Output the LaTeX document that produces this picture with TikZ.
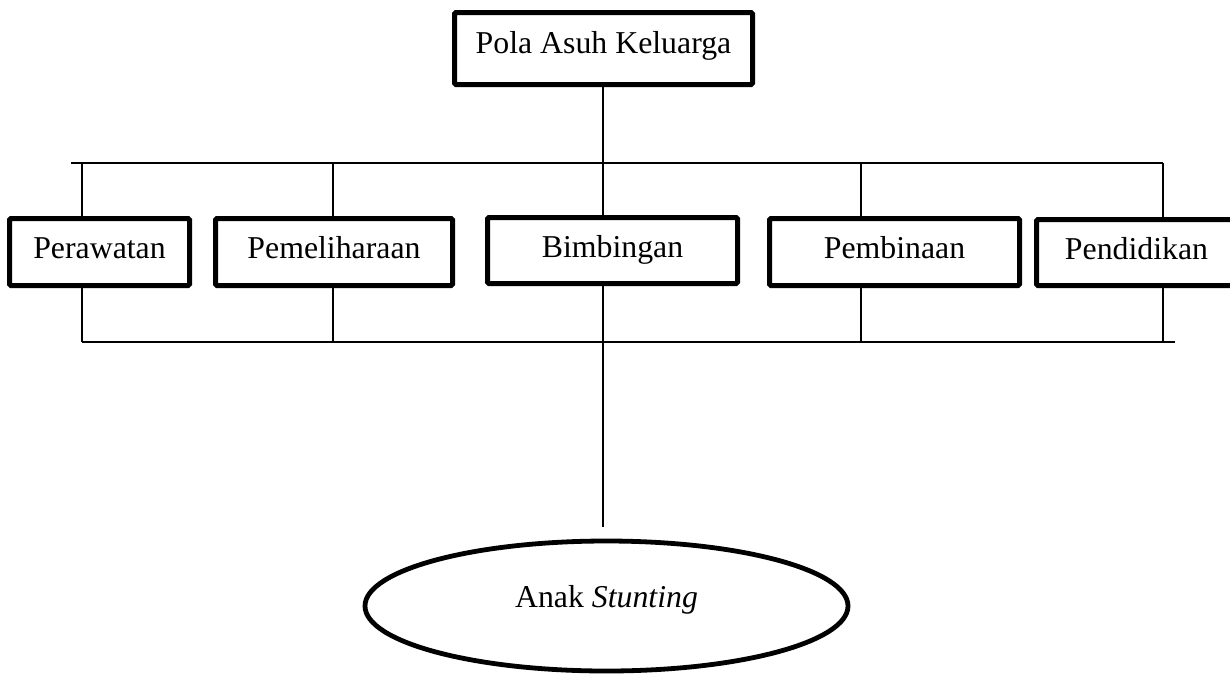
\documentclass[tikz,border=0pt]{standalone}
\usepackage{fontspec}
\setmainfont{Liberation Serif}
\usetikzlibrary{shapes.geometric}
\begin{document}
\begin{tikzpicture}[x=1pt,y=-1pt,
  box/.style={draw=black,line width=5pt,rounded corners=1.5pt,rectangle,inner sep=0pt,
    font=\fontsize{31.8}{38}\selectfont,text height=20pt,text depth=8pt},
  oval/.style={draw=black,line width=4.8pt,ellipse,inner sep=0pt,
    font=\fontsize{31.8}{38}\selectfont,text height=12pt,text depth=10pt},
  conn/.style={line width=1.6pt,draw=black}]
\useasboundingbox (0,0) rectangle (1230,675);
\node[box,minimum width=298pt,minimum height=72pt,text height=18pt,text depth=9pt] (top) at (603.5,48.5) {Pola Asuh Keluarga};
\node[box,minimum width=180pt,minimum height=67pt] (per) at (99.5,252) {Perawatan};
\node[box,minimum width=237pt,minimum height=67pt] (pem) at (334,252) {Pemeliharaan};
\node[box,minimum width=250pt,minimum height=66pt,text height=21pt] (bim) at (612.5,250.5) {Bimbingan};
\node[box,minimum width=250pt,minimum height=67pt] (pbn) at (894.5,252) {Pembinaan};
\node[box,minimum width=200pt,minimum height=66pt,text height=21pt] (pdd) at (1136.5,252.5) {Pendidikan};
\node[oval,minimum width=483pt,minimum height=130pt] (anak) at (606.5,606) {Anak \textit{Stunting}};
% top bus
\coordinate (tl) at (71,163);
\coordinate (tr) at (1163,163);
\coordinate (tc) at (603,163);
\coordinate (t1) at (82,163);
\coordinate (t2) at (333,163);
\coordinate (t4) at (861,163);
% bottom bus
\coordinate (bl) at (82,342);
\coordinate (br) at (1175,342);
\coordinate (b2) at (333,342);
\coordinate (b4) at (861,342);
\coordinate (b5) at (1163,342);
\coordinate (bend) at (603,527);
\draw[conn] (tc |- top.south) -- (tc);
\draw[conn] (tl) -- (tr);
\draw[conn] (t1) -- (t1 |- per.north);
\draw[conn] (t2) -- (t2 |- pem.north);
\draw[conn] (tc) -- (tc |- bim.north);
\draw[conn] (t4) -- (t4 |- pbn.north);
\draw[conn] (tr) -- (tr |- pdd.north);
\draw[conn] (bl) -- (br);
\draw[conn] (bl |- per.south) -- (bl);
\draw[conn] (b2 |- pem.south) -- (b2);
\draw[conn] (b4 |- pbn.south) -- (b4);
\draw[conn] (b5 |- pdd.south) -- (b5);
\draw[conn] (bend |- bim.south) -- (bend);
\end{tikzpicture}
\end{document}
